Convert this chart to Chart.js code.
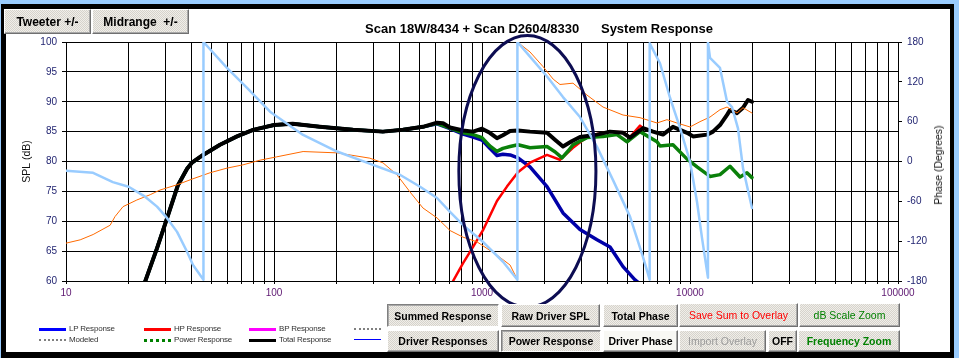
<!DOCTYPE html>
<html>
<head>
<meta charset="utf-8">
<script src="https://cdn.jsdelivr.net/npm/chart.js@4"></script>
<style>
  html, body { margin: 0; padding: 0; }
  body { width: 959px; height: 358px; background: #99ccff; overflow: hidden; position: relative; font-family: Arial, "Liberation Sans", sans-serif; }
  #frame { position: absolute; left: 1px; top: 4px; width: 953px; height: 354px; box-sizing: border-box;
           border: 5px solid #000; border-right-width: 4px; border-bottom-width: 6px; background: #fff; }
  #plot { position: absolute; left: 0; top: 0; z-index: 1; }
  .btn { position: absolute; z-index: 2; box-sizing: border-box; display: flex; align-items: center; justify-content: center;
         font: bold 10.5px Arial, "Liberation Sans", sans-serif; color: #000; white-space: pre;
         background: repeating-conic-gradient(#d6d3cc 0 25%, #f0eee9 0 50%) 0 0 / 2px 2px;
         border: 1px solid; border-color: #ffffff #707070 #707070 #ffffff; box-shadow: inset -1px -1px #a8a8a8; }
  .btn.down { border-color: #808080 #ffffff #ffffff #808080; box-shadow: inset 1px 1px #a8a8a8; }
  .btn.lit { background: #f8f8f4; }
  .btn.top { font-size: 12px; }
  .txt { position: absolute; z-index: 2; white-space: pre; }
  #title { left: 365px; top: 21px; font: bold 13px/15px Arial, "Liberation Sans", sans-serif; color: #000; }
  #phaseTitle { left: 938px; top: 165px; font: 10.5px Arial, "Liberation Sans", sans-serif; color: #111;
                transform: translate(-50%, -50%) rotate(-90deg); }
  .lg { position: absolute; z-index: 2; width: 27px; }
  .lgt { position: absolute; z-index: 2; font: 8px Arial, "Liberation Sans", sans-serif; letter-spacing: -0.2px; color: #333; line-height: 10px; }
</style>
</head>
<body>
<div id="frame"></div>
<canvas id="plot" width="959" height="358"></canvas>

<div class="btn top" style="left:4px;top:9px;width:87px;height:25px;">Tweeter +/-</div>
<div class="btn top" style="left:92px;top:9px;width:97px;height:25px;">Midrange  +/-</div>
<div class="txt" id="title">Scan 18W/8434 + Scan D2604/8330      System Response</div>
<div class="txt" id="phaseTitle">Phase (Degrees)</div>

<div class="btn down" style="left:387px;top:304px;width:112px;height:23px;">Summed Response</div>
<div class="btn" style="left:501px;top:304px;width:99px;height:23px;">Raw Driver SPL</div>
<div class="btn" style="left:603px;top:304px;width:75px;height:23px;">Total Phase</div>
<div class="btn" style="left:679px;top:303px;width:119px;height:24px;font-weight:normal;color:#ff0000;">Save Sum to Overlay</div>
<div class="btn" style="left:799px;top:303px;width:101px;height:24px;font-weight:normal;color:#008000;">dB Scale Zoom</div>
<div class="btn" style="left:387px;top:330px;width:112px;height:22px;">Driver Responses</div>
<div class="btn down" style="left:501px;top:330px;width:100px;height:22px;">Power Response</div>
<div class="btn lit" style="left:603px;top:330px;width:75px;height:22px;">Driver Phase</div>
<div class="btn" style="left:679px;top:330px;width:87px;height:22px;font-weight:normal;color:#9a9a9a;">Import Overlay</div>
<div class="btn" style="left:768px;top:330px;width:29px;height:22px;">OFF</div>
<div class="btn" style="left:798px;top:330px;width:102px;height:22px;color:#008000;">Frequency Zoom</div>

<div id="legend"></div>

<script>
// frequency grid labels (Hz) and the decades shown
const freqTickLabels = [10, 100, 1000, 10000, 100000];

// SPL (dB): total, power and LP response run together below ~520 Hz
const lowFreq = [24, 27.4, 30.6, 34.5, 38.2, 40.3, 45.6, 55, 66.4, 79.3, 100, 123, 166, 240, 334, 417, 520];
const lowSpl = [59.9, 65.5, 70.5, 76, 78.8, 79.8, 81.1, 82.8, 84.2, 85.3, 86.1, 86.3, 85.8, 85.3, 85.0, 85.3, 85.8];

const totalTailFreq = [608, 650, 702, 811, 906, 1000, 1090, 1180, 1260, 1365, 1489, 1701, 2054, 2250, 2451, 2700, 2958, 3573, 4125, 4764, 5148, 5945, 6642, 7413, 8283, 9682, 10340, 12080, 12900, 13940, 15070, 15570, 16830, 17980, 19000, 19860];
const totalTailSpl = [86.5, 86.4, 85.7, 85.2, 85.0, 85.5, 84.8, 83.9, 84.4, 85.1, 85.2, 85.0, 84.8, 83.6, 82.5, 83.4, 84.1, 84.5, 85.0, 84.8, 84.0, 85.6, 85.0, 84.5, 85.8, 84.8, 84.2, 84.5, 85.0, 86.1, 87.8, 88.6, 88.1, 89.0, 90.3, 90.0];

const powerTailFreq = [608, 702, 811, 906, 1000, 1090, 1180, 1260, 1365, 1489, 1701, 2054, 2250, 2425, 2600, 2738, 3198, 3819, 4457, 4981, 5750, 6941, 7174, 8283, 9682, 10810, 12480, 13940, 15570, 17390, 18790, 19860];
const powerTailSpl = [86.4, 85.6, 84.8, 84.5, 84.0, 82.6, 81.7, 82.2, 82.5, 82.8, 82.3, 82.5, 81.6, 80.6, 81.8, 82.8, 84.0, 84.2, 84.5, 83.3, 85.0, 83.3, 82.6, 82.8, 80.4, 79.1, 77.5, 77.8, 79.2, 77.4, 78.1, 77.3];

const lpTailFreq = [608, 702, 811, 906, 1000, 1090, 1180, 1260, 1365, 1489, 1701, 2054, 2451, 2958, 3573, 4125, 4764, 5440, 5800];
const lpTailSpl = [86.3, 85.5, 84.6, 84.1, 83.6, 82.2, 81.0, 81.2, 81.1, 80.6, 79.1, 75.8, 71.4, 68.6, 66.9, 65.7, 62.4, 60.2, 59.4];

const hpFreq = [726, 811, 906, 1011, 1180, 1318, 1489, 1701, 2054, 2371, 2738, 3198, 3573, 4125, 4764, 5148, 5750, 5945, 6642, 7413, 8283, 9682, 10340, 12080, 12900, 13940, 15070, 15570, 16830, 17980, 19000, 19860];
const hpSpl = [60, 63, 65.7, 68.5, 73.4, 75.8, 78.2, 79.8, 81.1, 80.3, 82.3, 84.1, 84.6, 85.0, 84.9, 84.1, 86.0, 85.6, 85.0, 84.5, 85.8, 84.8, 84.2, 84.5, 85.0, 86.1, 87.8, 88.6, 88.1, 89.0, 90.3, 90.0];

// phase (degrees), wrapped at +/-180
const totalPhaseFreq = [10, 13.5, 16.8, 20, 24, 27.4, 30.2, 34.2, 38.2, 40.8, 45.8, 45.8, 59.4, 74.2, 95.7, 138, 201, 299, 403, 504, 608, 702, 811, 1011, 1262, 1480, 1480, 1701, 2054, 2451, 2958, 3573, 4265, 5148, 5945, 6400, 6400, 7174, 8014, 8946, 10000, 10810, 11420, 12200, 12200, 12480, 13940, 15070, 15920, 17010, 17980, 19860];
const totalPhaseDeg = [-14, -17, -31, -38, -53, -68, -83, -106, -136, -156, -178, 180, 141, 111, 75, 40, 15, -5, -20, -38, -55, -76, -96, -121, -151, -178, 180, 158, 128, 97, 67, 22, -28, -83, -144, -178, 178, 148, 96, 51, 0, -61, -115, -175, 180, 156, 141, 90, 82, 50, -10, -70];

const driverPhaseFreq = [10, 11.7, 13.5, 16.3, 17.2, 18.8, 21.9, 25.4, 28.3, 34.2, 40.8, 49.2, 59.4, 71, 85.7, 103, 138, 201, 289, 334, 390, 451, 520, 608, 702, 811, 946, 1180, 1365, 1480, 1480, 1701, 1965, 2200, 2371, 2738, 3198, 3819, 4764, 5750, 6941, 7748, 8650, 10000, 11170, 12480, 13940, 15070, 16830, 17980, 19860];
const driverPhaseDeg = [-123, -118, -110, -96, -83, -68, -58, -50, -43, -35, -26, -17, -10, -5, 2, 7, 15, 13, 5, -2, -20, -46, -70, -85, -104, -114, -121, -141, -156, -178, 180, 165, 143, 124, 116, 118, 100, 82, 70, 66, 58, 63, 58, 52, 60, 67, 78, 82, 73, 81, 73];

// hand-drawn ellipse note, in chart units
const ellipseNote = { leftHz: 774, rightHz: 3530, topDb: 101.1, bottomDb: 55.6 };

const toPoints = (xs, ys) => xs.map((x, i) => ({ x, y: ys[i] }));

// vertical grid lines at 1..9 x each decade
const gridFreqs = [];
freqTickLabels.forEach((d, i) => {
  if (i === freqTickLabels.length - 1) { gridFreqs.push(d); return; }
  for (let m = 1; m <= 9; m++) gridFreqs.push(d * m);
});

const line = (label, data, color, width, axis) => ({
  label, data, borderColor: color, borderWidth: width, yAxisID: axis,
  pointRadius: 0, tension: 0, fill: false, borderJoinStyle: "round", borderCapStyle: "round"
});

const ellipsePlugin = {
  id: "ellipseNote",
  afterDraw(chart) {
    const { ctx, scales: { x, y } } = chart;
    const l = x.getPixelForValue(ellipseNote.leftHz);
    const r = x.getPixelForValue(ellipseNote.rightHz);
    const t = y.getPixelForValue(ellipseNote.topDb);
    const b = y.getPixelForValue(ellipseNote.bottomDb);
    ctx.save();
    ctx.beginPath();
    ctx.ellipse((l + r) / 2, (t + b) / 2, (r - l) / 2, (b - t) / 2, 0, 0, Math.PI * 2);
    ctx.strokeStyle = "#0d0d52";
    ctx.lineWidth = 3;
    ctx.stroke();
    ctx.restore();
  }
};

Chart.defaults.font.family = 'Arial, "Liberation Sans", sans-serif';

new Chart(document.getElementById("plot"), {
  type: "line",
  data: {
    datasets: [
      line("Total Phase", toPoints(totalPhaseFreq, totalPhaseDeg), "#99ccff", 2.5, "y2"),
      line("Driver Phase", toPoints(driverPhaseFreq, driverPhaseDeg), "#ff6a00", 1, "y2"),
      line("Total Response", toPoints(lowFreq.concat(totalTailFreq), lowSpl.concat(totalTailSpl)), "#000000", 4, "y"),
      line("Power Response", toPoints(lowFreq.concat(powerTailFreq), lowSpl.concat(powerTailSpl)), "#0a800a", 3.5, "y"),
      line("HP Response", toPoints(hpFreq, hpSpl), "#ff0000", 2.5, "y"),
      line("LP Response", toPoints(lowFreq.concat(lpTailFreq), lowSpl.concat(lpTailSpl)), "#0000a8", 3.5, "y")
    ]
  },
  options: {
    responsive: false,
    devicePixelRatio: 1,
    animation: false,
    events: [],
    layout: { padding: { left: 0, right: 0, top: 42, bottom: 0 } },
    plugins: { legend: { display: false }, tooltip: { enabled: false } },
    scales: {
      x: {
        type: "logarithmic", min: 10, max: 100000,
        afterBuildTicks: (s) => { s.ticks = gridFreqs.map((v) => ({ value: v })); },
        afterFit: (s) => { s.height = 77; },
        grid: { color: "#000", lineWidth: 1, tickLength: 3 },
        border: { color: "#000" },
        ticks: {
          autoSkip: false, maxRotation: 0, padding: 3, color: "#5c1670",
          font: { size: 10 },
          callback: (v) => (freqTickLabels.includes(v) ? String(v) : "")
        }
      },
      y: {
        position: "left", min: 60, max: 100,
        afterFit: (s) => { s.width = 66; },
        grid: { color: "#000", lineWidth: 1, tickLength: 4 },
        border: { color: "#000" },
        ticks: { stepSize: 5, padding: 5, color: "#1c1f6e", font: { size: 10 } },
        title: { display: true, text: "SPL (dB)", color: "#111", font: { size: 10.5 }, padding: { top: 21, bottom: 0 } }
      },
      y2: {
        position: "right", min: -180, max: 180,
        afterFit: (s) => { s.width = 61; },
        grid: { drawOnChartArea: false, color: "#000", tickLength: 4 },
        border: { color: "#000" },
        ticks: { stepSize: 60, padding: 5, color: "#1c1f6e", font: { size: 10 } }
      }
    }
  },
  plugins: [ellipsePlugin]
});

// legend entries drawn as page elements
const legendItems = [
  { text: "LP Response", x: 39, y: 329, style: "border-top:3px solid #0000ff" },
  { text: "HP Response", x: 144, y: 329, style: "border-top:3px solid #ff0000" },
  { text: "BP Response", x: 249, y: 329, style: "border-top:3px solid #ff00ff" },
  { text: "", x: 354, y: 329, style: "border-top:2px dotted #808080" },
  { text: "Modeled", x: 39, y: 340, style: "border-top:2px dotted #808080" },
  { text: "Power Response", x: 144, y: 340, style: "border-top:3px dotted #008000" },
  { text: "Total Response", x: 249, y: 340, style: "border-top:3px solid #000000" },
  { text: "", x: 354, y: 340, style: "border-top:1px solid #0000ff" }
];
const lg = document.getElementById("legend");
legendItems.forEach((it) => {
  const l = document.createElement("div");
  l.className = "lg";
  l.style.cssText = `left:${it.x}px;top:${it.y - 1}px;${it.style}`;
  lg.appendChild(l);
  if (it.text) {
    const t = document.createElement("div");
    t.className = "lgt";
    t.style.left = it.x + 30 + "px";
    t.style.top = it.y - 5 + "px";
    t.textContent = it.text;
    lg.appendChild(t);
  }
});
</script>
</body>
</html>
